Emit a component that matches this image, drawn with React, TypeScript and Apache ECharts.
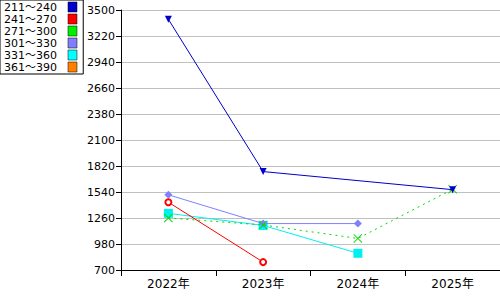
import React, { useEffect, useRef } from "react";
import * as echarts from "echarts";

const categories = ["2022年", "2023年", "2024年", "2025年"];
const seriesNames = ["211～240", "241～270", "271～300", "301～330", "331～360", "361～390"];
const s211: (number | null)[] = [3400, 1760, null, 1565];
const s241: (number | null)[] = [1430, 785, null, null];
const s271: (number | null)[] = [1260, 1185, 1040, 1570];
const s301: (number | null)[] = [1510, 1200, 1200, null];
const s331: (number | null)[] = [1310, 1180, 880, null];
const s361: (number | null)[] = [null, null, null, null];
const yTicks = { min: 700, max: 3500, step: 280 };

const colors = ["#0000cc", "#ff0000", "#00dd00", "#8080ff", "#00f0f0", "#ff8000"];
const legendColors = ["#0000cc", "#ff0000", "#00ee00", "#8080ff", "#00ffff", "#ff8000"];

const crossPath =
  "path://M0,0.7L0.7,0L5,4.3L9.3,0L10,0.7L5.7,5L10,9.3L9.3,10L5,5.7L0.7,10L0,9.3L4.3,5Z";

export default function App() {
  const ref = useRef<HTMLDivElement>(null);
  useEffect(() => {
    if (!ref.current) return;
    const chart = echarts.init(ref.current, undefined, { renderer: "svg" });
    const font = "DejaVu Sans, Noto Sans CJK JP, sans-serif";
    const allData = [s211, s241, s271, s301, s331, s361];
    const symbols = ["triangle", "emptyCircle", crossPath, "diamond", "rect", "circle"];
    const sizes = [7, 6, 9, 8, 9, 7];
    const rotates = [180, 0, 0, 0, 0, 0];
    const series = seriesNames.map((name, i) => ({
      name,
      type: "line",
      data: allData[i],
      connectNulls: true,
      symbol: symbols[i],
      symbolSize: sizes[i],
      symbolRotate: rotates[i],
      showSymbol: true,
      lineStyle: {
        color: colors[i],
        width: 1,
        type: i === 2 ? [2, 4] : "solid",
      },
      itemStyle: { color: colors[i], borderColor: colors[i], borderWidth: i === 1 ? 1.5 : 0 },
      z: 10 - i,
    }));
    chart.setOption({
      animation: false,
      backgroundColor: "#ffffff",
      textStyle: { fontFamily: font },
      grid: { left: 121, right: 0, top: 10, bottom: 30, containLabel: false },
      legend: {
        orient: "vertical",
        left: 0,
        top: 0,
        align: "right",
        padding: [1, 6, 1, 4],
        itemGap: 0,
        itemWidth: 9,
        itemHeight: 10,
        borderColor: "#000",
        borderWidth: 1,
        backgroundColor: "#fff",
        icon: "rect",
        data: seriesNames.map((n, i) => ({
          name: n,
          itemStyle: { color: legendColors[i], borderColor: "#000", borderWidth: 0.5 },
          lineStyle: { opacity: 0 },
        })),
        textStyle: {
          fontFamily: font,
          fontSize: 11,
          color: "#000",
          lineHeight: 12,
          height: 12,
          padding: [0, 6, 0, 0],
        },
        selectedMode: false,
      },
      xAxis: {
        type: "category",
        data: categories,
        boundaryGap: true,
        axisLine: { lineStyle: { color: "#000", width: 1 } },
        axisTick: { show: true, length: 6, lineStyle: { color: "#000" } },
        axisLabel: { color: "#000", fontSize: 12, fontFamily: font, margin: 8 },
        splitLine: { show: false },
      },
      yAxis: {
        type: "value",
        min: yTicks.min,
        max: yTicks.max,
        interval: yTicks.step,
        axisLine: { show: true, lineStyle: { color: "#000", width: 1 } },
        axisTick: { show: true, length: 5, lineStyle: { color: "#000" } },
        axisLabel: {
          color: "#000",
          fontSize: 11,
          fontFamily: font,
          margin: 6,
          formatter: (v: number) => String(v),
        },
        splitLine: { show: true, lineStyle: { color: "#c0c0c0", width: 1 } },
      },
      series,
    });
    return () => chart.dispose();
  }, []);
  return (
    <div
      ref={ref}
      style={{ position: "fixed", left: 0, top: 0, width: 500, height: 300 }}
    />
  );
}
